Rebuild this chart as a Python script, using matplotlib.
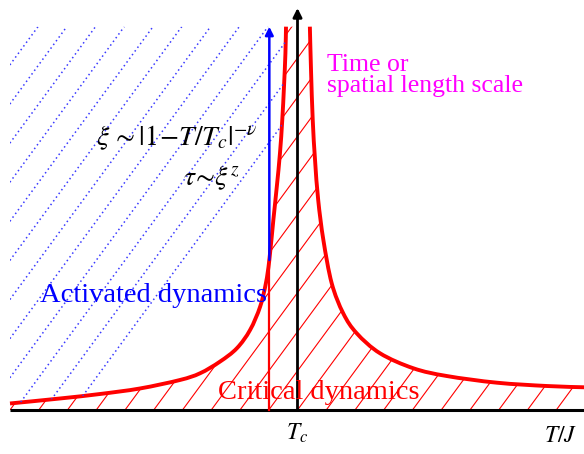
import numpy as np
import matplotlib
matplotlib.use("Agg")
import matplotlib.pyplot as plt
from matplotlib.patches import Polygon, PathPatch
from matplotlib.path import Path
from matplotlib.collections import LineCollection

plt.rcParams['font.family'] = ['Liberation Serif', 'DejaVu Serif']
plt.rcParams['mathtext.fontset'] = 'stix'

# Curva xi(T) (T en unidades de Tc, escala arbitraria)
T_left = [0.0, 0.174, 0.313, 0.452, 0.591, 0.661, 0.730, 0.789, 0.835,
          0.870, 0.890, 0.902, 0.916, 0.928, 0.939, 0.947, 0.953, 0.958,
          0.960]
xi_left = [0.163, 0.288, 0.40, 0.538, 0.75, 0.918, 1.208, 1.543, 2.0,
           2.583, 3.168, 3.75, 4.75, 5.583, 6.418, 7.25, 8.083, 8.918,
           9.583]
T_right = [1.043, 1.047, 1.053, 1.061, 1.072, 1.090, 1.119, 1.159, 1.206,
           1.287, 1.403, 1.519, 1.693, 1.867, 1.997]
xi_right = [9.583, 8.5, 7.25, 6.25, 5.25, 4.25, 3.168, 2.418, 1.918,
            1.418, 1.043, 0.85, 0.683, 0.60, 0.568]

TC = 1.0
T_MAX = 1.997
T_GLASS = 0.902      # flecha azul / linea roja vertical
XI_GLASS = 3.75
XI_TOP = 9.583
AXIS_TOP = 10.05


def smooth_path(xs, ys, ax):
    """Camino Bezier (Catmull-Rom) que pasa por los puntos, en pixeles"""
    p = ax.transData.transform(np.column_stack([xs, ys]))
    verts = [p[0]]
    codes = [Path.MOVETO]
    for i in range(len(p) - 1):
        p0 = p[max(i - 1, 0)]
        p1, p2 = p[i], p[i + 1]
        p3 = p[min(i + 2, len(p) - 1)]
        verts += [p1 + (p2 - p0) / 6, p2 - (p3 - p1) / 6, p2]
        codes += [Path.CURVE4] * 3
    return Path(verts, codes)


fig = plt.figure(figsize=(5.84, 4.54), dpi=100)
ax = fig.add_axes([0, 0, 1, 1])
ax.set_xlim(-10 / 287.5, 574 / 287.5)
ax.set_ylim(-44 / 40, 410 / 40)
ax.axis('off')

slope = 1.36 * 287.5 / 40  # pendiente del rayado en unidades de datos

# Region roja (bajo la curva)
red_poly = Polygon([(0, 0)] + list(zip(T_left, xi_left)) +
                   list(zip(T_right, xi_right)) + [(T_MAX, 0)],
                   closed=True, fill=False, edgecolor='none')
ax.add_patch(red_poly)
segs = []
for k in range(-12, 22):
    x0 = 0.1 * k
    segs.append([(x0, 0), (x0 + 11 / slope, 11)])
lc = LineCollection(segs, colors='red', linewidths=0.8)
ax.add_collection(lc)
lc.set_clip_path(red_poly)

# Region azul (por encima de la curva izquierda)
blue_poly = Polygon(list(zip(T_left, xi_left)) + [(0, XI_TOP)],
                    closed=True, fill=False, edgecolor='none')
ax.add_patch(blue_poly)
segs = []
for k in range(-12, 12):
    xt = 0.0974 + 0.1 * k
    segs.append([(xt - 11 / slope, XI_TOP - 11), (xt, XI_TOP)])
bc = LineCollection(segs, colors='#3a3aff', linewidths=1.1,
                    linestyles=[(0, (1, 2))])
ax.add_collection(bc)
bc.set_clip_path(blue_poly)

# Ejes
ax.plot([0, T_MAX], [0, 0], color='black', lw=2.2, solid_capstyle='butt')
ax.annotate('', xy=(TC, AXIS_TOP), xytext=(TC, 0),
            arrowprops=dict(arrowstyle='-|>', color='black', lw=2.0,
                            mutation_scale=13, shrinkA=0, shrinkB=0))

# Curvas
for xs, ys in [(T_left, xi_left), (T_right, xi_right)]:
    ax.add_patch(PathPatch(smooth_path(xs, ys, ax), transform=None,
                           facecolor='none', edgecolor='red', lw=2.8,
                           capstyle='butt'))

ax.plot([T_GLASS, T_GLASS], [0, XI_GLASS], color='red', lw=1.6)
ax.annotate('', xy=(T_GLASS, XI_TOP), xytext=(T_GLASS, XI_GLASS),
            arrowprops=dict(arrowstyle='-|>', color='blue', lw=1.8,
                            mutation_scale=12, shrinkA=0, shrinkB=0))

# Textos
ax.text(1.103, (410 - 71) / 40, 'Time or', color='#ff00ff', fontsize=18.5,
        ha='left', va='baseline')
ax.text(1.103, (410 - 92) / 40, 'spatial length scale', color='#ff00ff',
        fontsize=18.5, ha='left', va='baseline')
ax.text((40 - 10) / 287.5, (410 - 302) / 40, 'Activated dynamics',
        color='blue', fontsize=20.5, ha='left', va='baseline')
ax.text((218 - 10) / 287.5, (410 - 399) / 40, 'Critical dynamics',
        color='red', fontsize=20.5, ha='left', va='baseline')
ax.text((96 - 10) / 287.5, (410 - 145) / 40,
        r'$\xi\,\sim|1\!-\!\mathbf{\mathit{T/T}}_c|^{-\nu}$',
        color='black', fontsize=20, ha='left', va='baseline')
ax.text((183 - 10) / 287.5, (410 - 185) / 40, r'$\tau\!\sim\!\xi^z$',
        color='black', fontsize=20, ha='left', va='baseline')
ax.text(TC, (410 - 440) / 40, r'$T_c$', color='black', fontsize=17,
        ha='center', va='baseline')
ax.text((577 - 10) / 287.5, (410 - 442) / 40, r'$\mathbf{\mathit{T/J}}$',
        color='black', fontsize=17, ha='right', va='baseline')

fig.savefig('out.png', dpi=100)
